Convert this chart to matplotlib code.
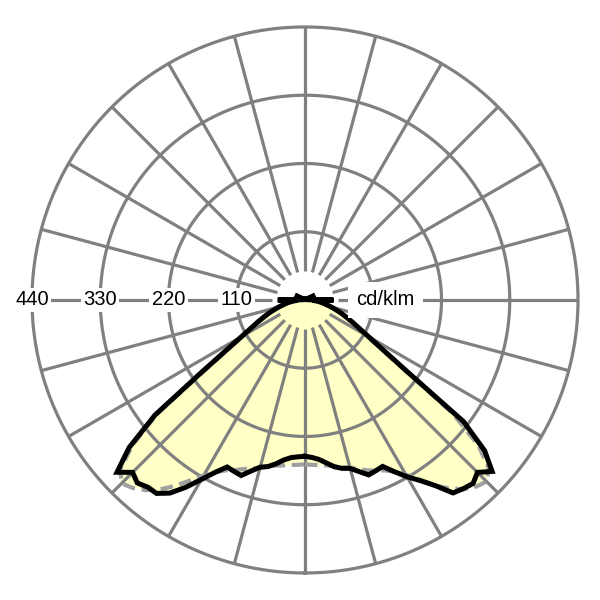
import numpy as np
import matplotlib
matplotlib.use("Agg")
import matplotlib.pyplot as plt

# ---- data (cd/klm) ----
# angles from nadir: 0..90 step 2.5, then 95..180 step 5
gamma = np.concatenate([np.arange(0, 90.1, 2.5), np.arange(95, 180.1, 5)])

# C0 (right half, solid black)
c0 = [252, 254, 258, 265, 273, 278, 281, 290, 300, 298, 296, 312, 329, 345, 365, 392,
      397, 401, 393, 409, 378, 322, 200, 148, 118, 98, 84, 72, 62, 52, 44, 36, 30, 24,
      18, 12, 46,
      4, 3, 3, 3, 18, 3, 2, 2, 2, 2, 2, 2, 2, 2, 2, 2, 2, 2]
# C180 (left half, solid black)
c180 = [252, 253, 255, 260, 268, 275, 279, 289, 301, 299, 297, 313, 334, 358, 380, 393,
        394, 400, 393, 411, 370, 305, 205, 150, 118, 98, 84, 72, 62, 52, 44, 36, 30, 24,
        18, 12, 44,
        4, 3, 3, 3, 18, 3, 2, 2, 2, 2, 2, 2, 2, 2, 2, 2, 2, 2]
# C90 (right half, dashed grey)
c90 = [265, 266, 267, 269, 272, 276, 280, 286, 292, 298, 303, 312, 325, 343, 365, 383,
       398, 408, 414, 402, 365, 300, 195, 145, 115, 95, 82, 70, 60, 50, 42, 34, 28, 22,
       16, 10, 6,
       3, 2, 2, 2, 2, 2, 2, 2, 2, 2, 2, 2, 2, 2, 2, 2, 2, 2]
# C270 (left half, dashed grey)
c270 = [265, 266, 267, 269, 271, 275, 280, 285, 290, 297, 303, 313, 327, 345, 366, 385,
        400, 411, 418, 404, 362, 298, 195, 145, 115, 95, 82, 70, 60, 50, 42, 34, 28, 22,
        16, 10, 6,
        3, 2, 2, 2, 2, 2, 2, 2, 2, 2, 2, 2, 2, 2, 2, 2, 2, 2]

ring_values = [110, 220, 330, 440]
ring_labels = ["110", "220", "330", "440"]
unit_label = "cd/klm"

GRID = "#808080"
FILL = "#FFFFC6"

def full_curve(right, left):
    th_r = np.deg2rad(gamma)
    th_l = np.deg2rad(360 - gamma[::-1])
    th = np.concatenate([th_r, th_l])
    r = np.concatenate([np.asarray(right, float), np.asarray(left, float)[::-1]])
    return th, r

fig = plt.figure(figsize=(6, 6), dpi=100)
ax = fig.add_axes([0.0430, 0.0347, 0.9307, 0.9307], projection="polar")
ax.set_theta_zero_location("S")
ax.set_theta_direction(1)
ax.set_ylim(0, 450)
ax.set_axis_off()

th_b, r_b = full_curve(c0, c180)
th_g, r_g = full_curve(c90, c270)

# fill
ax.fill(th_g, r_g, color=FILL, zorder=0, lw=0)
ax.fill(th_b, r_b, color=FILL, zorder=0, lw=0)

# grid circles
tt = np.linspace(0, 2 * np.pi, 721)
for rv in ring_values:
    ax.plot(tt, np.full_like(tt, rv), color=GRID, lw=2.3, zorder=1)

# spokes
for a in range(0, 360, 15):
    r_in = 53 if a in (90, 270) else 46
    ax.plot([np.deg2rad(a)] * 2, [r_in, 440], color=GRID, lw=2.3, zorder=1,
            solid_capstyle="butt")

# curves
ax.plot(th_g, r_g, color="#A0A0A0", lw=3.0, ls=(0, (3, 1.6)), zorder=2)
ax.plot(th_b, r_b, color="black", lw=3.6, zorder=3, solid_joinstyle="miter")

# labels
for rv, lab in zip(ring_values, ring_labels):
    ax.text(np.deg2rad(270), rv, lab, ha="center", va="center", fontsize=14.5,
            family="Liberation Sans", color="black", zorder=5,
            bbox=dict(boxstyle="square,pad=0.12", fc="white", ec="none"))
ax.text(np.deg2rad(90), 130, unit_label, ha="center", va="center", fontsize=14.5,
        family="Liberation Sans", color="black", zorder=5,
        bbox=dict(boxstyle="square,pad=0.4", fc="white", ec="none"))

fig.savefig("out.png", dpi=100, facecolor="white")
